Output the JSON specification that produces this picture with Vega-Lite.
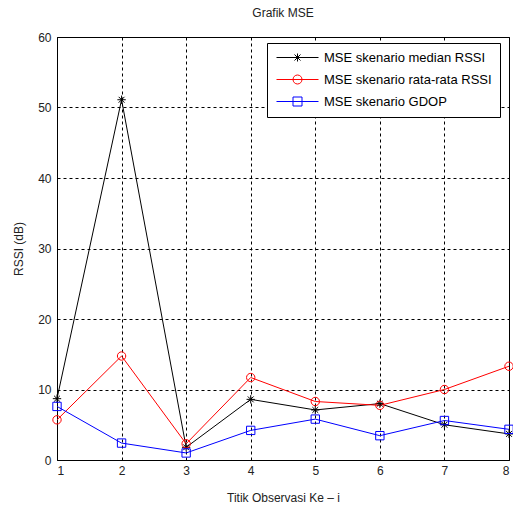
{
  "$schema": "https://vega.github.io/schema/vega-lite/v6.json",
  "autosize": "none",
  "width": 452,
  "height": 423,
  "padding": {"left": 57, "top": 37, "right": 4, "bottom": 54},
  "background": "white",
  "title": {"text": "Grafik MSE", "fontSize": 12, "fontWeight": "normal", "font": "Liberation Sans", "color": "#222", "anchor": "middle", "offset": 11},
  "config": {
    "font": "Liberation Sans",
    "view": {"stroke": "#000", "strokeWidth": 1},
    "axis": {
      "grid": true, "gridColor": "#000", "gridOpacity": 1, "gridDash": [3, 3], "gridWidth": 1,
      "domain": false, "ticks": false, "labelFontSize": 12, "labelColor": "#222",
      "titleFontSize": 12, "titleFontWeight": "normal", "titleColor": "#222", "labelFont": "Liberation Sans", "titleFont": "Liberation Sans"
    },
    "legend": {
      "orient": "none", "legendX": 210, "legendY": 6,
      "strokeColor": "#000", "fillColor": "white", "padding": 8,
      "labelFontSize": 13, "labelColor": "#000", "labelFont": "Liberation Sans", "labelLimit": 400,
      "symbolSize": 100, "symbolOffset": 16, "labelOffset": 20, "rowPadding": 8,
      "symbolStrokeWidth": 1, "symbolOpacity": 1, "cornerRadius": 0
    }
  },
  "data": {"values": [
    {"x": 1, "series": "MSE skenario median RSSI", "value": 8.7},
    {"x": 2, "series": "MSE skenario median RSSI", "value": 51.1},
    {"x": 3, "series": "MSE skenario median RSSI", "value": 1.8},
    {"x": 4, "series": "MSE skenario median RSSI", "value": 8.6},
    {"x": 5, "series": "MSE skenario median RSSI", "value": 7.1},
    {"x": 6, "series": "MSE skenario median RSSI", "value": 8.0},
    {"x": 7, "series": "MSE skenario median RSSI", "value": 5.0},
    {"x": 8, "series": "MSE skenario median RSSI", "value": 3.7},
    {"x": 1, "series": "MSE skenario rata-rata RSSI", "value": 5.7},
    {"x": 2, "series": "MSE skenario rata-rata RSSI", "value": 14.75},
    {"x": 3, "series": "MSE skenario rata-rata RSSI", "value": 2.3},
    {"x": 4, "series": "MSE skenario rata-rata RSSI", "value": 11.7},
    {"x": 5, "series": "MSE skenario rata-rata RSSI", "value": 8.3},
    {"x": 6, "series": "MSE skenario rata-rata RSSI", "value": 7.75},
    {"x": 7, "series": "MSE skenario rata-rata RSSI", "value": 10.0},
    {"x": 8, "series": "MSE skenario rata-rata RSSI", "value": 13.3},
    {"x": 1, "series": "MSE skenario GDOP", "value": 7.6},
    {"x": 2, "series": "MSE skenario GDOP", "value": 2.4},
    {"x": 3, "series": "MSE skenario GDOP", "value": 1.0},
    {"x": 4, "series": "MSE skenario GDOP", "value": 4.2},
    {"x": 5, "series": "MSE skenario GDOP", "value": 5.8},
    {"x": 6, "series": "MSE skenario GDOP", "value": 3.45},
    {"x": 7, "series": "MSE skenario GDOP", "value": 5.6},
    {"x": 8, "series": "MSE skenario GDOP", "value": 4.35}
  ]},
  "encoding": {
    "x": {"field": "x", "type": "quantitative", "scale": {"domain": [1, 8], "nice": false, "zero": false},
      "axis": {"values": [1, 2, 3, 4, 5, 6, 7, 8], "format": "d", "title": "Titik Observasi Ke \u2013 i", "labelPadding": 5, "titlePadding": 16}},
    "y": {"field": "value", "type": "quantitative", "scale": {"domain": [0, 60], "nice": false},
      "axis": {"values": [0, 10, 20, 30, 40, 50, 60], "title": "RSSI (dB)", "labelPadding": 6, "titlePadding": 12}}
  },
  "layer": [
    {
      "mark": {"type": "line", "strokeWidth": 1},
      "encoding": {
        "color": {"field": "series", "type": "nominal", "legend": null,
          "scale": {"domain": ["MSE skenario median RSSI", "MSE skenario rata-rata RSSI", "MSE skenario GDOP"], "range": ["#000000", "#ff0000", "#0000ff"]}}
      }
    },
    {
      "mark": {"type": "point", "filled": false, "strokeWidth": 1, "size": 70, "opacity": 1},
      "encoding": {
        "color": {"field": "series", "type": "nominal", "legend": null,
          "scale": {"domain": ["MSE skenario median RSSI", "MSE skenario rata-rata RSSI", "MSE skenario GDOP"], "range": ["#000000", "#ff0000", "#0000ff"]}},
        "shape": {"field": "series", "type": "nominal", "legend": null,
          "scale": {"domain": ["MSE skenario median RSSI", "MSE skenario rata-rata RSSI", "MSE skenario GDOP"],
            "range": ["M-1,0H1M0,-1V1M-0.7,-0.7L0.7,0.7M-0.7,0.7L0.7,-0.7", "circle", "square"]}}
      }
    },
    {
      "mark": {"type": "point", "filled": false, "strokeWidth": 1, "size": 100, "opacity": 0},
      "encoding": {
        "color": {"field": "series", "type": "nominal", "legend": {"title": null},
          "scale": {"domain": ["MSE skenario median RSSI", "MSE skenario rata-rata RSSI", "MSE skenario GDOP"], "range": ["#000000", "#ff0000", "#0000ff"]}},
        "shape": {"field": "series", "type": "nominal", "legend": {"title": null},
          "scale": {"domain": ["MSE skenario median RSSI", "MSE skenario rata-rata RSSI", "MSE skenario GDOP"],
            "range": ["M-4.2,0H4.2M0,-0.8V0.8M-0.6,-0.6L0.6,0.6M-0.6,0.6L0.6,-0.6", "M-4.2,0H4.2M-0.9,0A0.9,0.9,0,1,0,0.9,0A0.9,0.9,0,1,0,-0.9,0", "M-4.2,0H4.2M-0.9,-0.9H0.9V0.9H-0.9Z"]}}
      }
    }
  ],
  "resolve": {"scale": {"color": "independent", "shape": "independent"}}
}
